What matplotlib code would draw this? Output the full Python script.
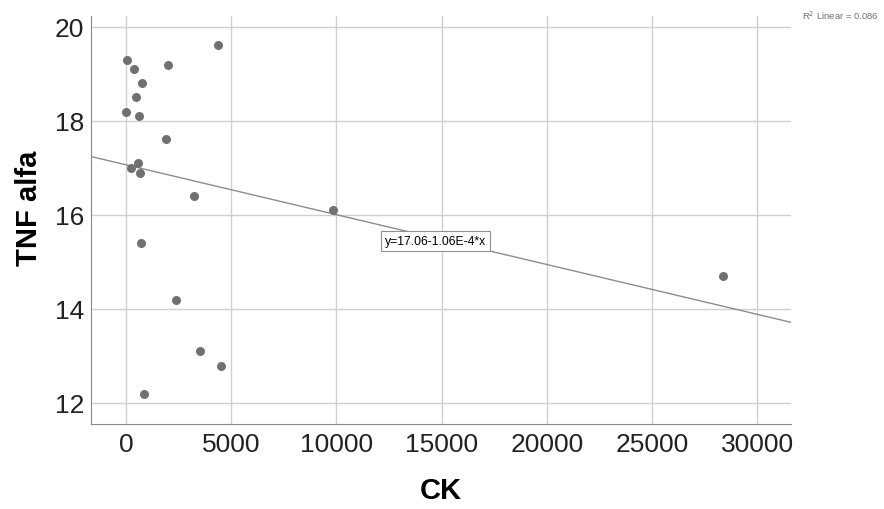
import numpy as np
import matplotlib.pyplot as plt

plt.rcParams['font.family'] = ['Liberation Sans', 'DejaVu Sans']

# CK vs TNF alfa
ck = [33, 395, 775, 461, 14, 618, 1902, 1997, 4360, 571, 252, 651,
      3233, 699, 2378, 3519, 4532, 870, 9829, 28402]
tnf = [19.29, 19.09, 18.80, 18.50, 18.19, 18.09, 17.60, 19.19, 19.60,
       17.10, 16.99, 16.89, 16.39, 15.39, 14.19, 13.09, 12.79, 12.19,
       16.10, 14.70]

# linear fit as printed on the chart
intercept = 17.06
slope = -1.06e-4
r2 = 0.086

xticks = [0, 5000, 10000, 15000, 20000, 25000, 30000]
yticks = [12, 14, 16, 18, 20]

fig = plt.figure(figsize=(8.84, 5.1), dpi=100)
ax = fig.add_axes([0.103, 0.167, 0.792, 0.800])

xlim = (-1664, 31620)
ylim = (11.55, 20.23)

ax.set_axisbelow(True)
ax.grid(True, color='#d0d0d0', linewidth=1.0)
ax.scatter(ck, tnf, s=42, color='#707070', zorder=3, linewidths=0)

xs = np.array(xlim)
ax.plot(xs, intercept + slope * xs, color='#8c8c8c', linewidth=1.0, zorder=2)

ax.set_xlim(xlim)
ax.set_ylim(ylim)
ax.set_xticks(xticks)
ax.set_yticks(yticks)
ax.tick_params(length=0, labelsize=19, labelcolor='#222222')
ax.tick_params(axis='x', pad=6)
ax.tick_params(axis='y', pad=5)

for side in ['top', 'right']:
    ax.spines[side].set_visible(False)
for side in ['left', 'bottom']:
    ax.spines[side].set_color('#888888')

ax.set_xlabel('CK', fontsize=21, fontweight='bold', labelpad=14)
ax.set_ylabel('TNF alfa', fontsize=21, fontweight='bold')
ax.yaxis.set_label_coords(-0.069, 0.53)

ax.text(14711, 15.44, 'y=17.06-1.06E-4*x', fontsize=8.7, ha='center',
        va='center', zorder=4,
        bbox=dict(boxstyle='square,pad=0.3', facecolor='white',
                  edgecolor='#909090', linewidth=0.8))

fig.text(0.994, 0.982, 'R$^2$ Linear = %.3f' % r2, fontsize=6.8,
         color='#707070', ha='right', va='top')

fig.savefig('out.png', dpi=100)
